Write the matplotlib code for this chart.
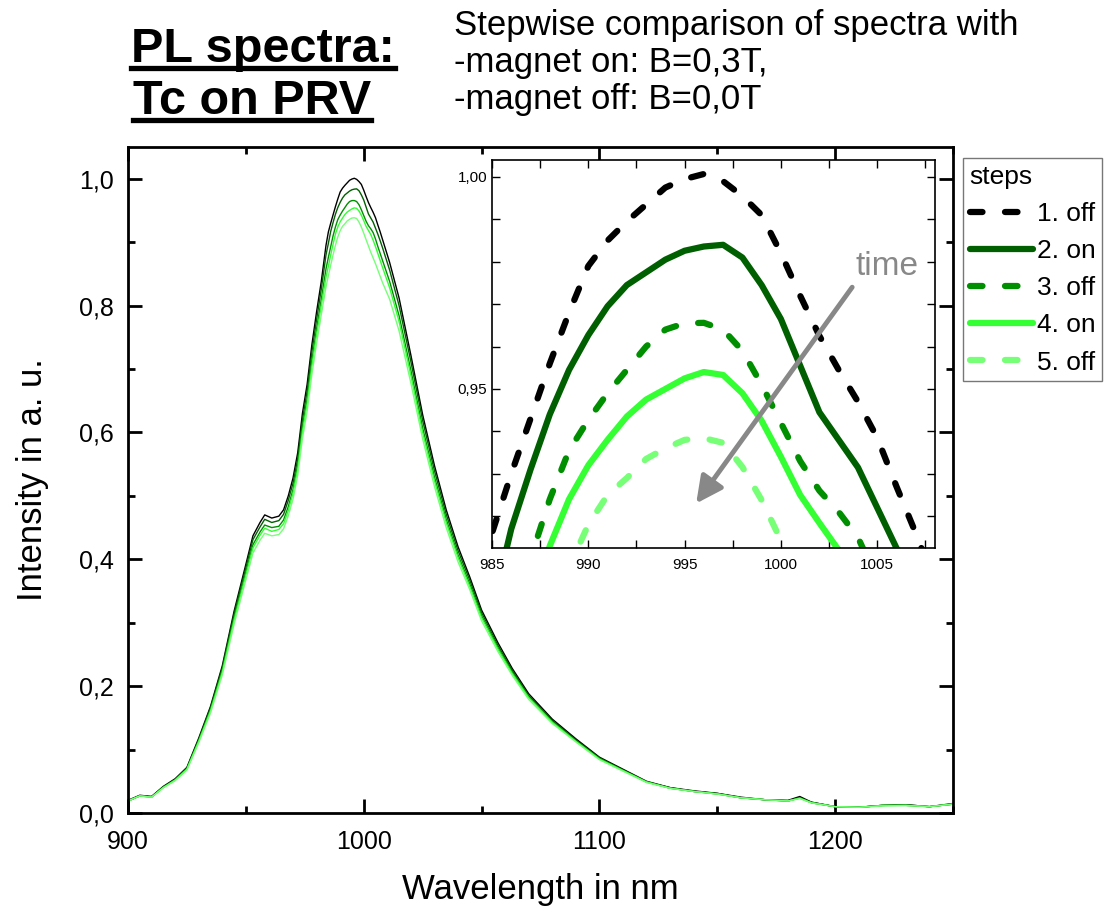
import numpy as np
import matplotlib
matplotlib.use("Agg")
import matplotlib.pyplot as plt
from matplotlib.ticker import MultipleLocator, FuncFormatter
from matplotlib.lines import Line2D

plt.rcParams['font.family'] = ['Liberation Sans', 'DejaVu Sans']

# wavelength grid in nm (dense around the maximum, where the inset zooms in)
wavelength = [900, 905, 910, 915, 920, 925, 930, 935, 940, 945, 950, 953, 956, 958, 961, 964, 966, 968,
              970, 972, 974, 976, 978, 980, 982,
              984, 985, 986, 987, 988, 989, 990, 991, 992, 993, 994, 995, 996, 997, 998, 999, 1000,
              1001, 1002, 1003, 1004, 1005, 1006, 1007, 1008,
              1011, 1015, 1020, 1025, 1030, 1035, 1040, 1045, 1050, 1057, 1063, 1070, 1080, 1090, 1100,
              1110, 1120, 1130, 1140, 1150, 1160, 1170, 1180, 1185, 1190, 1200, 1210, 1220, 1230, 1240, 1250]

# normalised PL intensity, one list per measurement step
off_1 = [0.020, 0.028, 0.026, 0.042, 0.054, 0.072, 0.118, 0.168, 0.232, 0.318, 0.392, 0.437, 0.458, 0.470,
         0.465, 0.468, 0.478, 0.500, 0.528, 0.568, 0.630, 0.676, 0.738, 0.790, 0.838,
         0.895, 0.916, 0.930, 0.943, 0.956, 0.968, 0.979, 0.985, 0.9895, 0.9935, 0.9975, 0.9995, 1.0007,
         0.999, 0.9955, 0.991, 0.982, 0.972, 0.9625, 0.9545, 0.947, 0.9385, 0.927, 0.916, 0.904,
         0.868, 0.812, 0.722, 0.628, 0.548, 0.478, 0.420, 0.372, 0.320, 0.268, 0.228, 0.188, 0.148, 0.117,
         0.088, 0.069, 0.050, 0.040, 0.035, 0.031, 0.025, 0.021, 0.020, 0.026, 0.017, 0.010, 0.009, 0.012,
         0.013, 0.010, 0.015]
on_2 = [0.019, 0.027, 0.026, 0.041, 0.053, 0.071, 0.116, 0.166, 0.229, 0.314, 0.387, 0.431, 0.451, 0.463,
        0.458, 0.461, 0.471, 0.493, 0.520, 0.559, 0.620, 0.666, 0.727, 0.778, 0.826,
        0.880, 0.898, 0.917, 0.931, 0.944, 0.9545, 0.9627, 0.9695, 0.9745, 0.9775, 0.9805, 0.9826, 0.9836,
        0.984, 0.981, 0.9745, 0.9665, 0.9555, 0.9445, 0.938, 0.9315, 0.922, 0.9125, 0.902, 0.891,
        0.856, 0.800, 0.712, 0.619, 0.540, 0.471, 0.414, 0.367, 0.316, 0.264, 0.225, 0.185, 0.146, 0.115,
        0.087, 0.068, 0.049, 0.040, 0.034, 0.031, 0.024, 0.021, 0.019, 0.024, 0.017, 0.010, 0.009, 0.012,
        0.013, 0.010, 0.014]
off_3 = [0.019, 0.027, 0.025, 0.041, 0.052, 0.070, 0.114, 0.163, 0.225, 0.308, 0.380, 0.423, 0.443, 0.454,
         0.450, 0.452, 0.462, 0.483, 0.510, 0.549, 0.609, 0.653, 0.713, 0.763, 0.810,
         0.858, 0.876, 0.893, 0.910, 0.924, 0.9355, 0.9427, 0.949, 0.9545, 0.960, 0.964, 0.9655, 0.9656,
         0.964, 0.959, 0.951, 0.942, 0.933, 0.926, 0.921, 0.915, 0.905, 0.893, 0.882, 0.871,
         0.838, 0.784, 0.698, 0.607, 0.530, 0.463, 0.407, 0.361, 0.311, 0.260, 0.222, 0.183, 0.144, 0.114,
         0.086, 0.067, 0.049, 0.039, 0.034, 0.030, 0.024, 0.021, 0.019, 0.024, 0.016, 0.010, 0.009, 0.012,
         0.012, 0.010, 0.014]
on_4 = [0.019, 0.027, 0.025, 0.040, 0.052, 0.069, 0.113, 0.161, 0.222, 0.304, 0.375, 0.418, 0.438, 0.449,
        0.444, 0.447, 0.456, 0.477, 0.504, 0.542, 0.601, 0.645, 0.704, 0.754, 0.800,
        0.845, 0.862, 0.880, 0.897, 0.913, 0.924, 0.932, 0.938, 0.9435, 0.9475, 0.950, 0.9525, 0.954,
        0.9533, 0.949, 0.9425, 0.934, 0.925, 0.9184, 0.912, 0.903, 0.893, 0.882, 0.871, 0.860,
        0.828, 0.775, 0.690, 0.600, 0.524, 0.458, 0.403, 0.357, 0.308, 0.258, 0.220, 0.182, 0.143, 0.113,
        0.085, 0.067, 0.049, 0.039, 0.034, 0.030, 0.024, 0.021, 0.019, 0.023, 0.016, 0.010, 0.009, 0.012,
        0.012, 0.010, 0.014]
off_5 = [0.019, 0.027, 0.025, 0.040, 0.051, 0.068, 0.111, 0.158, 0.218, 0.298, 0.368, 0.410, 0.430, 0.441,
         0.437, 0.439, 0.448, 0.469, 0.495, 0.533, 0.591, 0.634, 0.692, 0.741, 0.786,
         0.830, 0.847, 0.864, 0.880, 0.895, 0.908, 0.918, 0.925, 0.929, 0.9335, 0.936, 0.938, 0.9384,
         0.9373, 0.9316, 0.9238, 0.9143, 0.904, 0.894, 0.884, 0.875, 0.866, 0.856, 0.846, 0.836,
         0.810, 0.760, 0.678, 0.590, 0.515, 0.450, 0.396, 0.352, 0.303, 0.254, 0.217, 0.179, 0.141, 0.112,
         0.084, 0.066, 0.048, 0.039, 0.034, 0.030, 0.024, 0.021, 0.019, 0.023, 0.016, 0.010, 0.009, 0.011,
         0.012, 0.010, 0.014]

steps = ['1. off', '2. on', '3. off', '4. on', '5. off']
colors = ['#000000', '#005f00', '#008f00', '#33ff33', '#77ff77']
dashed = [True, False, True, False, True]
series = [off_1, on_2, off_3, on_4, off_5]

W, H = 1107, 909
fig = plt.figure(figsize=(W / 100, H / 100), dpi=100)

# ---- main spectrum ----
ax = fig.add_axes([128 / W, 1 - 813 / H, (953 - 128) / W, (813 - 147) / H])
for vals, c in zip(series, colors):
    ax.plot(wavelength, vals, color=c, lw=1.0)

ax.set_xlim(900, 1250)
ax.set_ylim(0, 1.05)
ax.xaxis.set_major_locator(MultipleLocator(100))
ax.xaxis.set_minor_locator(MultipleLocator(50))
ax.yaxis.set_major_locator(MultipleLocator(0.2))
ax.yaxis.set_minor_locator(MultipleLocator(0.1))
ax.yaxis.set_major_formatter(FuncFormatter(lambda v, p: f'{v:.1f}'.replace('.', ',')))
ax.tick_params(which='both', direction='in', top=True, right=True, width=2, labelsize=18)
ax.tick_params(axis='x', pad=12)
ax.tick_params(axis='y', pad=10)
ax.tick_params(which='major', length=10)
ax.tick_params(which='minor', length=5)
for s in ax.spines.values():
    s.set_linewidth(2)
ax.set_xlabel('Wavelength in nm', fontsize=25, labelpad=14)
ax.set_ylabel('Intensity in a. u.', fontsize=25, labelpad=22)

# ---- inset around the maximum ----
ax_in = fig.add_axes([492 / W, 1 - 548 / H, 443 / W, 388 / H])
handles = []
for vals, c, d, lab in zip(series, colors, dashed, steps):
    ls = (0, (2.0, 3.6)) if d else '-'
    ln, = ax_in.plot(wavelength, vals, color=c, lw=4.5, ls=ls,
                     dash_capstyle='round', solid_capstyle='round', label=lab)
    handles.append(ln)
ax_in.set_xlim(985, 1008)
ax_in.set_ylim(0.9125, 1.004)
ax_in.xaxis.set_major_locator(MultipleLocator(5))
ax_in.xaxis.set_minor_locator(MultipleLocator(2.5))
ax_in.yaxis.set_major_locator(MultipleLocator(0.05))
ax_in.yaxis.set_minor_locator(MultipleLocator(0.01))
ax_in.yaxis.set_major_formatter(FuncFormatter(lambda v, p: f'{v:.2f}'.replace('.', ',')))
ax_in.tick_params(which='both', direction='in', top=True, right=True, width=1, labelsize=11)
ax_in.tick_params(axis='x', pad=7)
ax_in.tick_params(which='major', length=6)
ax_in.tick_params(which='minor', length=6)
for s in ax_in.spines.values():
    s.set_linewidth(1.2)

ax_in.annotate('', xy=(995.6, 0.923), xytext=(1003.7, 0.974),
               arrowprops=dict(arrowstyle='-|>', color='#888888', lw=3.5, mutation_scale=40,
                               shrinkA=0, shrinkB=0))
ax_in.text(1005.5, 0.979, 'time', color='#888888', fontsize=24, ha='center', va='center')

leg = fig.legend(handles=handles, labels=steps, title='steps', loc='upper left',
                 bbox_to_anchor=(963 / W, 1 - 158 / H), bbox_transform=fig.transFigure,
                 fontsize=19, title_fontsize=19, handlelength=2.4, handletextpad=0.15,
                 labelspacing=0.5, borderpad=0.25, borderaxespad=0, fancybox=False,
                 edgecolor='#555555', alignment='left')
leg.get_frame().set_linewidth(1.0)

# ---- headings ----
t1 = fig.text(131 / W, 1 - 62 / H, 'PL spectra:', fontsize=35, fontweight='bold', va='baseline')
t2 = fig.text(133 / W, 1 - 114 / H, 'Tc on PRV', fontsize=35, fontweight='bold', va='baseline')
fig.text(454 / W, 1 - 35 / H, 'Stepwise comparison of spectra with', fontsize=25, va='baseline')
fig.text(454 / W, 1 - 72 / H, '-magnet on: B=0,3T,', fontsize=25, va='baseline')
fig.text(454 / W, 1 - 109 / H, '-magnet off: B=0,0T', fontsize=25, va='baseline')

fig.canvas.draw()
for t, base in [(t1, 62), (t2, 114)]:
    bb = t.get_window_extent()
    yl = 1 - (base + 6) / H
    fig.add_artist(Line2D([bb.x0 / W, bb.x1 / W], [yl, yl], color='black', lw=3.8,
                          transform=fig.transFigure))

fig.savefig('out.png', dpi=100)
